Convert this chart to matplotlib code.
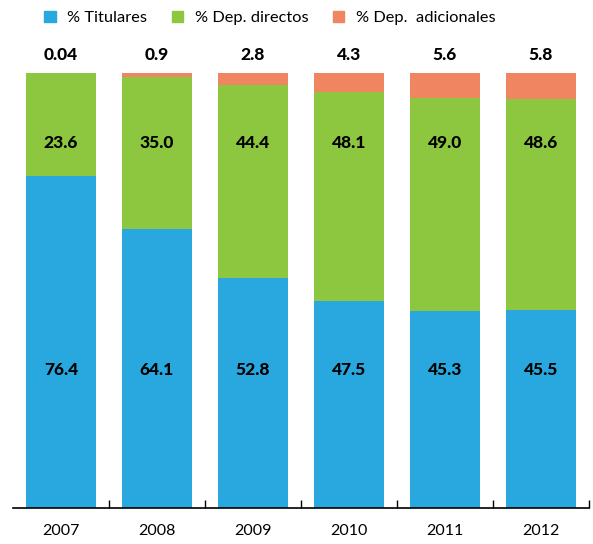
import numpy as np
import matplotlib as mpl
mpl.use('Agg')
import matplotlib.pyplot as plt
from matplotlib.patches import Patch

years = ['2007', '2008', '2009', '2010', '2011', '2012']
titulares = [76.4, 64.1, 52.8, 47.5, 45.3, 45.5]
directos = [23.6, 35.0, 44.4, 48.1, 49.0, 48.6]
adicionales = [0.04, 0.9, 2.8, 4.3, 5.6, 5.8]
adic_labels = ['0.04', '0.9', '2.8', '4.3', '5.6', '5.8']

c_tit = '#29A8E0'
c_dir = '#8DC63F'
c_adi = '#F08562'

plt.rcParams['font.family'] = ['Lato', 'DejaVu Sans']

fig = plt.figure(figsize=(5.93, 5.44), dpi=100)
ax = fig.add_axes([13/593, 36/544, 576/593, 435/544])

ind = np.arange(len(years))
tit = np.array(titulares)
dire = np.array(directos)
adi = np.array(adicionales)
w = 0.73
ax.bar(ind, tit, w, color=c_tit)
ax.bar(ind, dire, w, bottom=tit, color=c_dir)
ax.bar(ind, adi, w, bottom=tit + dire, color=c_adi)

# labels sit on fixed rows, as in the original layout
for i in ind:
    ax.text(i, 31.7, '%.1f' % tit[i], ha='center', va='center',
            fontsize=12.5, fontweight='black')
    ax.text(i, 83.9, '%.1f' % dire[i], ha='center', va='center',
            fontsize=12.5, fontweight='black')
    ax.text(i, 104.1, adic_labels[i], ha='center', va='center',
            fontsize=12.5, fontweight='black')

ax.set_xlim(-0.5, 5.5)
ax.set_ylim(0, 100)
for s in ['top', 'right', 'left']:
    ax.spines[s].set_visible(False)
ax.spines['bottom'].set_linewidth(1.2)
ax.set_yticks([])
ax.set_xticks(np.arange(0.5, 5.6, 1))
ax.set_xticklabels([])
ax.tick_params(axis='x', direction='in', length=6, width=1)
for i, y in enumerate(years):
    ax.text(i, -5.4, y, ha='center', va='center', fontsize=11.5)

handles = [Patch(color=c_tit, label='% Titulares'),
           Patch(color=c_dir, label='% Dep. directos'),
           Patch(color=c_adi, label='% Dep.  adicionales')]
fig.legend(handles=handles, loc='center', bbox_to_anchor=(0.455, 0.967), ncol=3,
           frameon=False, fontsize=11.8, handlelength=0.7, handleheight=0.7,
           handletextpad=0.7, columnspacing=1.5)

plt.savefig('out.png', dpi=100)
plt.close()
